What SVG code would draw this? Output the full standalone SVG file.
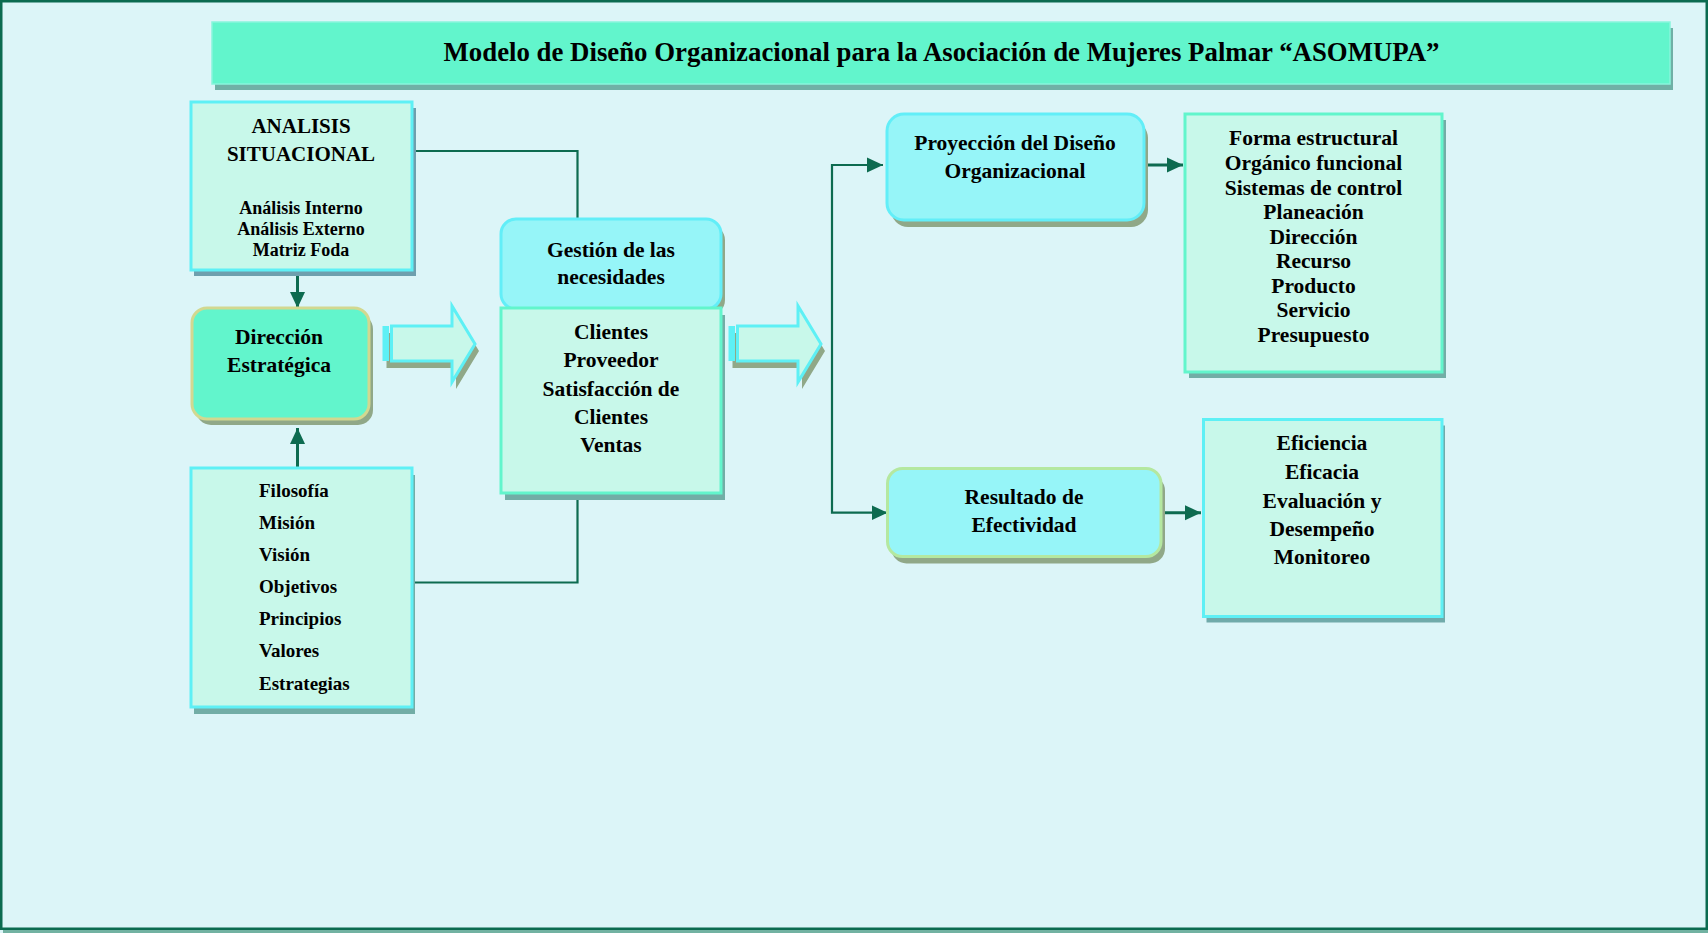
<svg xmlns="http://www.w3.org/2000/svg" width="1708" height="933" viewBox="0 0 1708 933">
<style>
.t{font-family:"Liberation Serif","Times New Roman",serif;font-weight:bold;fill:#000}
.c{text-anchor:middle}
.f21{font-size:21.5px}
.f18{font-size:18px}
.ln{fill:none;stroke:#0d6b50;stroke-width:2.2}
.ar{fill:none;stroke:#0d6b50;stroke-width:3}
.pale{fill:#c8f8ea}
.cy{stroke:#5ef0f5;stroke-width:3}
.mint{stroke:#62f5cc;stroke-width:3}
.sh1{fill:#72ada6}
.sh2{fill:#90a888}
.lc{fill:#96f5f8}
</style>
<defs>
<marker id="ah" markerUnits="userSpaceOnUse" markerWidth="17" markerHeight="16" refX="16" refY="8" orient="auto-start-reverse"><path d="M0,0.5 L16,8 L0,15.5 z" fill="#0d6b50"/></marker>
</defs>
<rect x="0" y="0" width="1708" height="933" fill="#dcf5f8"/>
<rect x="3" y="929" width="1705" height="4" fill="#72b2a2"/>
<rect x="1.25" y="1.25" width="1705.5" height="927.5" fill="#dcf5f8" stroke="#0b6b50" stroke-width="2.5"/>

<g id="title">
<rect x="215" y="28" width="1458" height="62" fill="#70b0a6"/>
<rect x="212" y="22" width="1458" height="62" fill="#62f5cc" stroke="#88f5dc" stroke-width="1.5"/>
<text class="t c" x="941.5" y="60.5" font-size="26.8">Modelo de Diseño Organizacional para la Asociación de Mujeres Palmar “ASOMUPA”</text>
</g>

<g id="connectors">
<polyline class="ln" points="412,151 577.5,151 577.5,219"/>
<polyline class="ln" points="412,582.5 577.5,582.5 577.5,493"/>
<line class="ar" x1="297.5" y1="270" x2="297.5" y2="308" marker-end="url(#ah)"/>
<line class="ar" x1="297.5" y1="468" x2="297.5" y2="428" marker-end="url(#ah)"/>
<path class="ln" d="M883,165 H832 V512.7 H887.5" marker-start="url(#ah)" marker-end="url(#ah)"/>
<line class="ar" x1="1144" y1="165" x2="1183" y2="165" marker-end="url(#ah)"/>
<line class="ar" x1="1161" y1="512.7" x2="1201" y2="512.7" marker-end="url(#ah)"/>
</g>

<g id="analisis">
<rect class="sh1" x="194" y="108" width="222" height="168" style="fill:#6e9fae"/>
<rect class="pale cy" x="191" y="102" width="221" height="168"/>
<text class="t c" x="301" y="132.5" font-size="21">ANALISIS</text>
<text class="t c" x="301" y="160.5" font-size="21">SITUACIONAL</text>
<text class="t c f18" x="301" y="214">Análisis Interno</text>
<text class="t c f18" x="301" y="235">Análisis Externo</text>
<text class="t c f18" x="301" y="256">Matriz Foda</text>
</g>

<g id="direccion">
<rect class="sh2" x="196" y="314" width="177" height="111" rx="15"/>
<rect x="192" y="308" width="177" height="111" rx="15" fill="#62f5cc" stroke="#d2d890" stroke-width="3"/>
<text class="t c f21" x="279" y="344">Dirección</text>
<text class="t c f21" x="279" y="372">Estratégica</text>
</g>

<g id="valores">
<rect class="sh1" x="194" y="475" width="221" height="239"/>
<rect class="pale cy" x="191" y="468" width="221" height="239"/>
<g class="t" font-size="19">
<text x="259" y="497">Filosofía</text>
<text x="259" y="529">Misión</text>
<text x="259" y="561">Visión</text>
<text x="259" y="593">Objetivos</text>
<text x="259" y="625">Principios</text>
<text x="259" y="657">Valores</text>
<text x="259" y="690">Estrategias</text>
</g>
</g>

<g id="flecha1">
<path class="sh2" d="M386.5,333 H456 V313 L479,351 L456,389 V368 H386.5 Z"/>
<rect x="382.5" y="326" width="6.5" height="35" fill="#5ef0f5"/>
<path class="pale cy" d="M391.5,326 H452 V306 L475,344 L452,382 V361 H391.5 Z" stroke-width="2.5"/>
</g>

<g id="flecha2">
<path class="sh2" d="M732.5,333 H802 V313 L825,351 L802,389 V368 H732.5 Z"/>
<rect x="728.5" y="326" width="6.5" height="35" fill="#5ef0f5"/>
<path class="pale cy" d="M737.5,326 H798 V306 L821,344 L798,382 V361 H737.5 Z" stroke-width="2.5"/>
</g>

<g id="gestion">
<rect class="sh2" x="505" y="225" width="220" height="90" rx="15"/>
<rect class="lc" x="501" y="219" width="220" height="90" rx="15" stroke="#62eef8" stroke-width="3"/>
<text class="t c f21" x="611" y="256.5">Gestión de las</text>
<text class="t c f21" x="611" y="284">necesidades</text>
</g>

<g id="clientes">
<rect class="sh1" x="505" y="315" width="220" height="185"/>
<rect class="pale mint" x="501" y="308" width="220" height="185"/>
<text class="t c f21" x="611" y="339">Clientes</text>
<text class="t c f21" x="611" y="366.5">Proveedor</text>
<text class="t c f21" x="611" y="396">Satisfacción de</text>
<text class="t c f21" x="611" y="424">Clientes</text>
<text class="t c f21" x="611" y="451.5">Ventas</text>
</g>

<g id="proyeccion">
<rect class="sh2" x="891" y="121" width="257" height="106" rx="17"/>
<rect class="lc" x="887" y="114" width="257" height="106" rx="17" stroke="#62eef8" stroke-width="3"/>
<text class="t c f21" x="1015" y="150">Proyección del Diseño</text>
<text class="t c f21" x="1015" y="178">Organizacional</text>
</g>

<g id="forma">
<rect class="sh1" x="1189" y="120" width="257" height="258"/>
<rect class="pale mint" x="1185" y="114" width="257" height="258"/>
<g class="t c f21">
<text x="1313.5" y="145">Forma estructural</text>
<text x="1313.5" y="170">Orgánico funcional</text>
<text x="1313.5" y="194.5">Sistemas de control</text>
<text x="1313.5" y="219">Planeación</text>
<text x="1313.5" y="243.5">Dirección</text>
<text x="1313.5" y="268">Recurso</text>
<text x="1313.5" y="292.5">Producto</text>
<text x="1313.5" y="317">Servicio</text>
<text x="1313.5" y="341.5">Presupuesto</text>
</g>
</g>

<g id="resultado">
<rect class="sh2" x="891.5" y="475.5" width="273.5" height="88" rx="15"/>
<rect class="lc" x="887.5" y="468.5" width="273.5" height="88" rx="15" stroke="#b4e8a0" stroke-width="3"/>
<text class="t c f21" x="1024" y="504">Resultado de</text>
<text class="t c f21" x="1024" y="531.5">Efectividad</text>
</g>

<g id="eficiencia">
<rect class="sh1" x="1206.5" y="425.5" width="238.5" height="197" style="fill:#70aaaa"/>
<rect class="pale cy" x="1203.5" y="419.5" width="238.5" height="197"/>
<g class="t c f21">
<text x="1322" y="450">Eficiencia</text>
<text x="1322" y="479">Eficacia</text>
<text x="1322" y="507.5">Evaluación y</text>
<text x="1322" y="535.5">Desempeño</text>
<text x="1322" y="563.5">Monitoreo</text>
</g>
</g>
</svg>
